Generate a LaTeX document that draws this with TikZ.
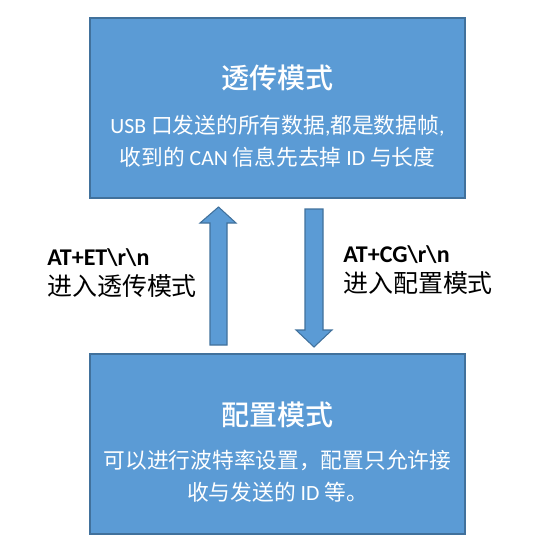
\documentclass[tikz,border=0pt]{standalone}
\usepackage{fontspec}
\setmainfont{Carlito}
\newfontfamily\cjk{Noto Sans CJK SC}
\newfontfamily\cjkmed{Noto Sans CJK SC Medium}
\usetikzlibrary{calc}
\definecolor{boxblue}{HTML}{5B9BD5}
\definecolor{boxline}{HTML}{41719C}

\begin{document}
\begin{tikzpicture}[x=0.75pt,y=-0.75pt]
        \useasboundingbox (0,0) rectangle (543,549);
        % the two mode boxes
        \begin{scope}[every node/.style={draw=boxline, line width=1.2pt, fill=boxblue, minimum width=281pt, minimum height=135pt, inner sep=0}]
                \node (Trans) at (277.5,108) {};
                \node (Conf) at (277.5,444) {};
        \end{scope}
        \begin{scope}[every node/.style={text=white, align=center, inner sep=0}]
                \node[font=\fontsize{21pt}{25pt}\selectfont\cjkmed] (TransT) at ($(Trans.center)+(0,-30)$) {透传模式};
                \node[font=\fontsize{16.3pt}{24pt}\selectfont] (TransB) at ($(Trans.center)+(0,33)$) {USB {\cjk 口发送的所有数据},{\cjk 都是数据帧}, \\ {\cjk 收到的} CAN {\cjk 信息先去掉} ID {\cjk 与长度}};
                \node[font=\fontsize{21pt}{25pt}\selectfont\cjkmed] (ConfT) at ($(Conf.center)+(0,-29)$) {配置模式};
                \node[font=\fontsize{16.3pt}{24pt}\selectfont] (ConfB) at ($(Conf.center)+(0,32)$) {{\cjk 可以进行波特率设置，配置只允许接} \\ {\cjk 收与发送的} ID {\cjk 等。}};
        \end{scope}
        % block arrows between the boxes
        \begin{scope}[every path/.style={draw=boxline, line width=0.8pt, fill=boxblue}]
                \path (210,345) -- (210,223) -- (200,223) -- (218.5,207) -- (236,223) -- (227,223) -- (227,345) -- cycle;
                \path (305,209) -- (305,330) -- (296,330) -- (314,347) -- (332,330) -- (323,330) -- (323,209) -- cycle;
        \end{scope}
        \begin{scope}[every node/.style={align=left, anchor=west, inner sep=0, font=\fontsize{18pt}{22.5pt}\selectfont}]
                \node (ToTrans) at (47,273) {\textbf{AT+ET\textbackslash r\textbackslash n}\\ \fontsize{18.7pt}{22.5pt}\selectfont\cjk 进入透传模式};
                \node (ToConf) at (343,270) {\textbf{AT+CG\textbackslash r\textbackslash n}\\ \fontsize{18.7pt}{22.5pt}\selectfont\cjk 进入配置模式};
        \end{scope}
\end{tikzpicture}
\end{document}
